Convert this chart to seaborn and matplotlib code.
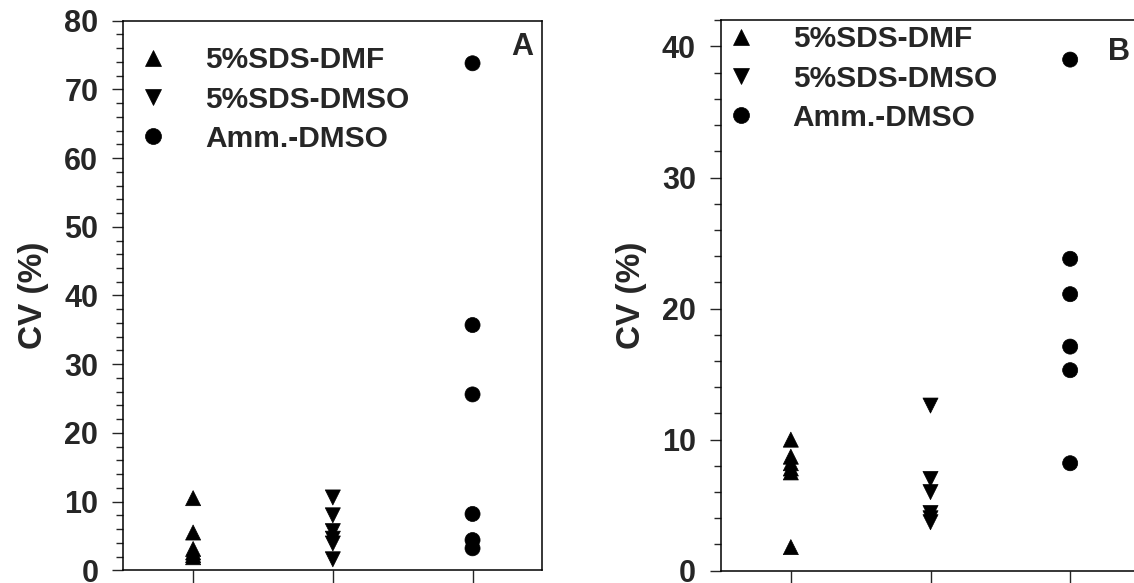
import pandas as pd
import matplotlib
matplotlib.use("Agg")
import matplotlib.pyplot as plt
from matplotlib.ticker import MultipleLocator, NullFormatter
import seaborn as sns

# Data
groups = ["5%SDS-DMF", "5%SDS-DMSO", "Amm.-DMSO"]
group_pos = [1, 2, 3]

cv_a_dmf = [10.5, 5.5, 3.1, 2.6, 2.2, 1.9]
cv_a_sds_dmso = [10.6, 8.0, 5.7, 4.6, 3.9, 1.6]
cv_a_amm = [73.8, 35.7, 25.6, 8.2, 4.4, 3.2]

cv_b_dmf = [10.0, 8.7, 8.2, 7.8, 7.5, 1.8]
cv_b_sds_dmso = [12.6, 7.0, 6.0, 4.4, 4.0, 3.7]
cv_b_amm = [39.0, 23.8, 21.1, 17.1, 15.3, 8.2]


def long_frame(series):
    rows = []
    for g, p, vals in zip(groups, group_pos, series):
        for v in vals:
            rows.append({"group": g, "pos": p, "cv": v})
    return pd.DataFrame(rows)


df_a = long_frame([cv_a_dmf, cv_a_sds_dmso, cv_a_amm])
df_b = long_frame([cv_b_dmf, cv_b_sds_dmso, cv_b_amm])

sns.set_style("ticks")
plt.rcParams["font.family"] = ["Liberation Sans", "DejaVu Sans"]
plt.rcParams["font.weight"] = "bold"
plt.rcParams["axes.labelweight"] = "bold"

markers = {"5%SDS-DMF": "^", "5%SDS-DMSO": "v", "Amm.-DMSO": "o"}
palette = {g: "black" for g in groups}

fig = plt.figure(figsize=(11.34, 5.83), dpi=100)
ax_a = fig.add_axes([0.1087, 0.0218, 0.3696, 0.9427])
ax_b = fig.add_axes([0.6358, 0.0211, 0.3695, 0.9441])

panels = [
    (ax_a, df_a, 80, "A", (0.0358, 0.9535), (0.9515, 0.953)),
    (ax_b, df_b, 42, "B", (0.0112, 0.991), (0.95, 0.9415)),
]

for ax, df, ytop, tag, leg_anchor, tag_xy in panels:
    sns.scatterplot(data=df, x="pos", y="cv", hue="group", style="group",
                    markers=markers, palette=palette, s=118,
                    edgecolor="black", linewidth=0.5, ax=ax)
    ax.set_xlim(0.5, 3.5)
    ax.set_ylim(0, ytop)
    ax.set_xticks(group_pos)
    ax.set_xticklabels([])
    ax.set_xlabel("")
    ax.set_ylabel("CV (%)", fontsize=24, fontweight="bold", labelpad=11)
    ax.yaxis.set_major_locator(MultipleLocator(10))
    ax.yaxis.set_minor_locator(MultipleLocator(2))
    ax.yaxis.set_minor_formatter(NullFormatter())
    ax.tick_params(axis="y", which="major", length=8, width=1.0,
                   labelsize=22, pad=10)
    ax.tick_params(axis="y", which="minor", length=5, width=1.0)
    ax.tick_params(axis="x", which="major", length=9, width=1.0)
    for lbl in ax.get_yticklabels():
        lbl.set_fontweight("bold")
    for sp in ax.spines.values():
        sp.set_linewidth(1.1)
        sp.set_color("black")
    handles, labels = ax.get_legend_handles_labels()
    for h in handles:
        h.set_markersize(11.5)
    ax.legend(handles, labels, loc="upper left", bbox_to_anchor=leg_anchor,
              frameon=False, borderpad=0, borderaxespad=0,
              handlelength=1.0, handletextpad=1.24, labelspacing=0.38,
              prop={"size": 21.5, "weight": "bold"})
    ax.text(tag_xy[0], tag_xy[1], tag, transform=ax.transAxes,
            fontsize=22, fontweight="bold", ha="center", va="center")

fig.savefig("out.png", dpi=100)
